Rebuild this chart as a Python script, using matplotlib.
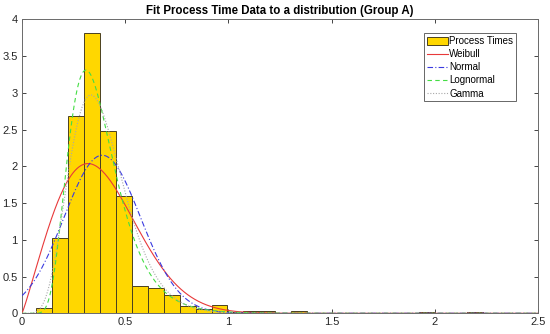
import math
import numpy as np
import matplotlib
matplotlib.use("Agg")
import matplotlib.pyplot as plt
from matplotlib.patches import Patch
from matplotlib.lines import Line2D

plt.rcParams['font.family'] = ['Liberation Sans', 'DejaVu Sans']

# Histogram (density) values
bin_start = 0.068
bin_width = 0.0773
bar_heights = [0.068, 1.03, 2.68, 3.82, 2.48, 1.60, 0.375, 0.344, 0.25, 0.105,
               0.054, 0.11, 0.013, 0.035, 0.035, 0.0, 0.035, 0.0, 0.0, 0.0,
               0.0, 0.0, 0.0, 0.0, 0.012, 0.0, 0.0, 0.012]

# Fitted distribution parameters
weibull_scale, weibull_shape = 0.435, 2.1
normal_mu, normal_sigma = 0.389, 0.1855
lognormal_mu, lognormal_sigma = -1.039, 0.364
gamma_shape, gamma_scale = 7.35, 0.0526

legend_labels = ["Process Times", "Weibull", "Normal", "Lognormal", "Gamma"]
title = "Fit Process Time Data to a distribution (Group A)"

x = np.linspace(0.0005, 2.5, 1200)
weib = (weibull_shape / weibull_scale) * (x / weibull_scale) ** (weibull_shape - 1) * np.exp(-(x / weibull_scale) ** weibull_shape)
norm = np.exp(-(x - normal_mu) ** 2 / (2 * normal_sigma ** 2)) / (normal_sigma * math.sqrt(2 * math.pi))
logn = np.exp(-(np.log(x) - lognormal_mu) ** 2 / (2 * lognormal_sigma ** 2)) / (x * lognormal_sigma * math.sqrt(2 * math.pi))
gam = x ** (gamma_shape - 1) * np.exp(-x / gamma_scale) / (math.gamma(gamma_shape) * gamma_scale ** gamma_shape)

fig = plt.figure(figsize=(5.5, 3.34), dpi=100)
ax = fig.add_axes([0.04, 0.062, 0.938, 0.880])

lefts = [bin_start + i * bin_width for i in range(len(bar_heights))]
ax.bar(lefts, bar_heights, width=bin_width, align='edge', color='#ffd700',
       edgecolor='#4a4020', linewidth=0.7, zorder=2)

ax.plot(x, weib, color='#e8393a', lw=0.8, ls='-', zorder=3)
ax.plot(x, norm, color='#3a3ae0', lw=0.8, ls=(0, (5, 2, 1, 2)), zorder=3)
ax.plot(x, logn, color='#44dd44', lw=0.8, ls=(0, (4, 3)), zorder=3)
ax.plot(x, gam, color='#a8a8a8', lw=0.8, ls=(0, (1, 1.5)), zorder=3)

ax.set_xlim(0, 2.5)
ax.set_ylim(0, 4)
ax.set_xticks([0, 0.5, 1, 1.5, 2, 2.5])
ax.set_xticklabels(['0', '0.5', '1', '1.5', '2', '2.5'])
ax.set_yticks([0, 0.5, 1, 1.5, 2, 2.5, 3, 3.5, 4])
ax.set_yticklabels(['0', '0.5', '1', '1.5', '2', '2.5', '3', '3.5', '4'])
ax.tick_params(direction='in', top=True, right=True, length=3, width=0.6,
               labelsize=8, colors='#262626', pad=3)
for s in ax.spines.values():
    s.set_color('#6a6a6a')
    s.set_linewidth(0.7)

ax.set_title(title, fontsize=8.3, fontweight='bold', pad=4)

handles = [Patch(facecolor='#ffd700', edgecolor='#4a4020', linewidth=0.7),
           Line2D([], [], color='#e8393a', lw=0.8),
           Line2D([], [], color='#3a3ae0', lw=0.8, ls=(0, (5, 2, 1, 2))),
           Line2D([], [], color='#44dd44', lw=0.8, ls=(0, (4, 3))),
           Line2D([], [], color='#a8a8a8', lw=0.8, ls=(0, (1, 1.5)))]
leg = ax.legend(handles, legend_labels, loc='upper right', bbox_to_anchor=(0.9575, 0.953),
                fontsize=7, frameon=True, fancybox=False, handlelength=2.2,
                handleheight=0.9, handletextpad=0.1, borderpad=0.3, labelspacing=0.32,
                borderaxespad=0)
leg.get_frame().set_edgecolor('#404040')
leg.get_frame().set_linewidth(0.7)

fig.savefig('out.png', dpi=100)
